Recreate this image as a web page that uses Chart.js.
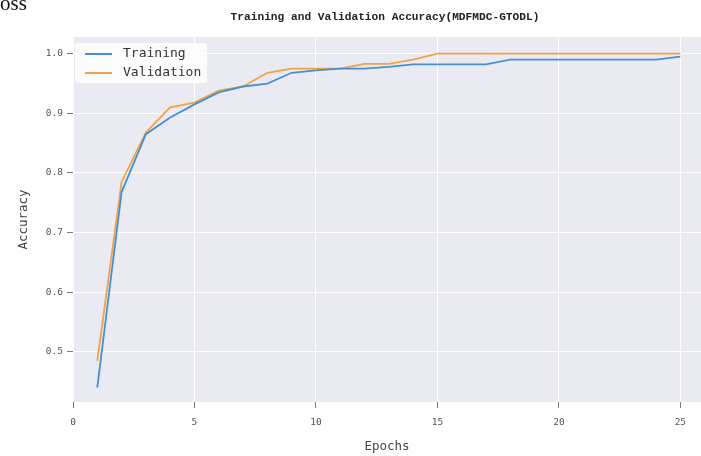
<!DOCTYPE html>
<html>
<head>
<meta charset="utf-8">
<title>Training and Validation Accuracy</title>
<script src="https://cdn.jsdelivr.net/npm/chart.js@4.4.1/dist/chart.umd.min.js"></script>
<style>
  html, body { margin: 0; padding: 0; background: #fff; overflow: hidden; }
  #wrap { position: relative; width: 701px; height: 456px; }
  #prev { position: absolute; left: 0; top: -9px; font: 21px "Liberation Serif", serif; color: #111; }
  canvas { position: absolute; left: 0; top: 0; }
</style>
</head>
<body>
<div id="wrap">
  <canvas id="accChart" width="701" height="456"></canvas>
  <div id="prev">oss</div>
</div>
<script>
// curvas de accuracy por época
const epochs = [1, 2, 3, 4, 5, 6, 7, 8, 9, 10, 11, 12, 13, 14, 15, 16, 17, 18, 19, 20, 21, 22, 23, 24, 25];
const trainAcc = [0.440, 0.768, 0.865, 0.893, 0.915, 0.935, 0.945, 0.950, 0.968, 0.972, 0.975, 0.975, 0.978, 0.982, 0.982,
                  0.982, 0.982, 0.990, 0.990, 0.990, 0.990, 0.990, 0.990, 0.990, 0.995];
const valAcc = [0.485, 0.785, 0.868, 0.910, 0.918, 0.938, 0.945, 0.968, 0.975, 0.975, 0.975, 0.983, 0.983, 0.990, 1.000,
                1.000, 1.000, 1.000, 1.000, 1.000, 1.000, 1.000, 1.000, 1.000, 1.000];
const xTicks = [0, 5, 10, 15, 20, 25];
const yTicks = [0.5, 0.6, 0.7, 0.8, 0.9, 1.0];

const MONO = '"DejaVu Sans Mono", monospace';
const BLUE = '#4690d0';
const ORANGE = '#f5a048';

// fondo gris-lavanda del área de trazado (estilo darkgrid)
const plotBg = {
  id: 'plotBg',
  beforeDraw(chart) {
    const { ctx, chartArea: a } = chart;
    ctx.save();
    ctx.fillStyle = '#eaeaf2';
    ctx.fillRect(a.left, a.top, a.right - a.left, a.bottom - a.top);
    ctx.restore();
  }
};

// título centrado sobre el área de trazado
const plotTitle = {
  id: 'plotTitle',
  afterDraw(chart) {
    const { ctx, chartArea: a } = chart;
    ctx.save();
    ctx.font = 'bold 11.2px "Liberation Mono", monospace';
    ctx.fillStyle = '#222';
    ctx.textAlign = 'center';
    ctx.textBaseline = 'middle';
    ctx.fillText('Training and Validation Accuracy(MDFMDC-GTODL)', (a.left + a.right) / 2 - 2, 17);
    ctx.restore();
  }
};

// leyenda dentro del gráfico, arriba a la izquierda
const innerLegend = {
  id: 'innerLegend',
  afterDatasetsDraw(chart) {
    const { ctx, chartArea: a } = chart;
    const x = a.left + 2, y = a.top + 6, w = 132, h = 40;
    ctx.save();
    ctx.fillStyle = 'rgba(255,255,255,0.85)';
    ctx.beginPath();
    ctx.roundRect(x, y, w, h, 3);
    ctx.fill();
    ctx.font = '13px ' + MONO;
    ctx.textBaseline = 'middle';
    chart.data.datasets.forEach((ds, i) => {
      const ly = y + 11 + i * 19;
      ctx.strokeStyle = ds.borderColor;
      ctx.lineWidth = 2;
      ctx.beginPath();
      ctx.moveTo(x + 10, ly);
      ctx.lineTo(x + 37, ly);
      ctx.stroke();
      ctx.fillStyle = '#333';
      ctx.fillText(ds.label, x + 48, ly);
    });
    ctx.restore();
  }
};

const ctx = document.getElementById('accChart');
new Chart(ctx, {
  type: 'line',
  data: {
    datasets: [
      {
        label: 'Training',
        data: epochs.map((e, i) => ({ x: e, y: trainAcc[i] })),
        borderColor: BLUE,
        borderWidth: 1.8,
        pointRadius: 0,
        tension: 0
      },
      {
        label: 'Validation',
        data: epochs.map((e, i) => ({ x: e, y: valAcc[i] })),
        borderColor: ORANGE,
        borderWidth: 1.8,
        pointRadius: 0,
        tension: 0
      }
    ]
  },
  options: {
    responsive: false,
    animation: false,
    layout: { padding: { top: 37, right: 0, left: 0, bottom: 0 } },
    plugins: {
      legend: { display: false },
      tooltip: { enabled: false }
    },
    scales: {
      x: {
        type: 'linear',
        min: 0,
        max: 25.85,
        afterFit(scale) { scale.height = 54; },
        afterBuildTicks(scale) { scale.ticks = xTicks.map(v => ({ value: v })); },
        ticks: {
          font: { family: MONO, size: 9.5 },
          color: '#555',
          padding: 9,
          maxRotation: 0
        },
        grid: { color: '#ffffff', lineWidth: 1, tickColor: '#777', tickLength: 6 },
        border: { display: false },
        title: {
          display: true,
          text: 'Epochs',
          font: { family: MONO, size: 12.5 },
          color: '#444',
          padding: { top: 2, bottom: 2 }
        }
      },
      y: {
        min: 0.416,
        max: 1.028,
        afterFit(scale) { scale.width = 73; },
        afterBuildTicks(scale) { scale.ticks = yTicks.map(v => ({ value: v })); },
        ticks: {
          font: { family: MONO, size: 9.5 },
          color: '#555',
          padding: 4,
          callback: v => v.toFixed(1)
        },
        grid: { color: '#ffffff', lineWidth: 1, tickColor: '#777', tickLength: 6 },
        border: { display: false },
        title: {
          display: true,
          text: 'Accuracy',
          font: { family: MONO, size: 12.5 },
          color: '#444',
          padding: { top: 16, bottom: 0 }
        }
      }
    }
  },
  plugins: [plotBg, plotTitle, innerLegend]
});
</script>
</body>
</html>
